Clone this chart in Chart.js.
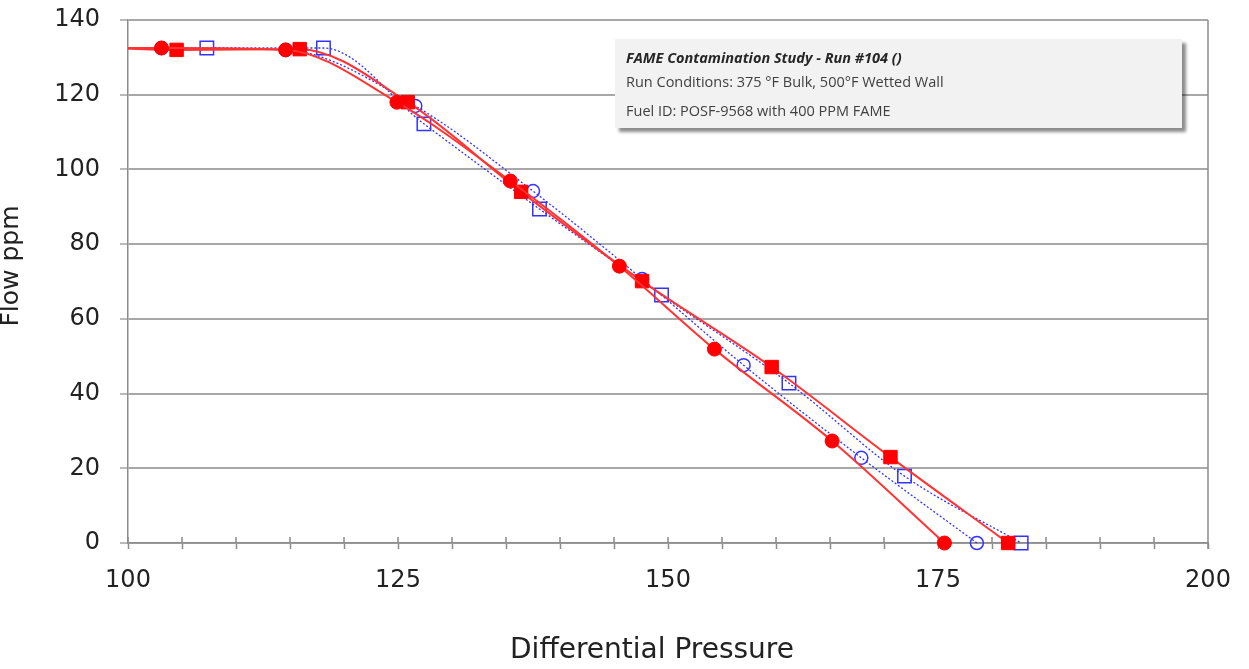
<!DOCTYPE html>
<html>
<head>
<meta charset="utf-8">
<title>FAME Contamination Study - Run #104</title>
<script src="https://cdn.jsdelivr.net/npm/chart.js@4.4.1/dist/chart.umd.min.js"></script>
<style>
    html, body { margin: 0; padding: 0; background: #ffffff; }
    #wrap { width: 1249px; height: 669px; }
</style>
</head>
<body>
<div id="wrap"><canvas id="flowChart" width="1249" height="669"></canvas></div>
<script>
// ===== DATA =====
// first point of each run sits left of 100 so the curve starts at the axis
var redCircleX = [98, 103.1, 114.6, 124.9, 135.4, 145.5, 154.3, 165.2, 175.6];
var redCircleY = [132.5, 132.5, 132.0, 118.0, 96.9, 74.1, 51.9, 27.3, 0];

var redSquareX = [98, 104.5, 115.9, 125.9, 136.4, 147.6, 159.6, 170.6, 181.5];
var redSquareY = [132.5, 132.0, 132.2, 118.0, 94.0, 70.1, 47.1, 23.0, 0];

var blueCircleX = [98, 103.1, 114.6, 126.6, 137.5, 147.6, 157.0, 167.9, 178.6];
var blueCircleY = [132.5, 132.5, 132.0, 117.0, 94.2, 70.7, 47.6, 22.8, 0];

var blueSquareX = [98, 107.3, 118.1, 127.4, 138.1, 149.4, 161.2, 171.9, 182.7];
var blueSquareY = [132.5, 132.5, 132.5, 112.2, 89.4, 66.4, 42.8, 17.9, 0];

var xTickLabels = [100, 125, 150, 175, 200];
var yTickLabels = [0, 20, 40, 60, 80, 100, 120, 140];

var infoLines = [
    'FAME Contamination Study - Run #104 ()',
    'Run Conditions: 375 °F Bulk, 500°F Wetted Wall',
    'Fuel ID: POSF-9568 with 400 PPM FAME'
];

var xTitle = 'Differential Pressure';
var yTitle = 'Flow ppm';

// ===== HELPERS =====
function toPoints(xs, ys) {
    return xs.map(function(v, i) { return { x: v, y: ys[i] }; });
}

var AXIS_GREY = '#8c8c8c';
var FONT = '"DejaVu Sans", sans-serif';

// ===== FRAME, TICKS, TITLES, INFO BOX =====
var decorPlugin = {
    id: 'decor',
    beforeDatasetsDraw: function(chart) {
        var ctx = chart.ctx, a = chart.chartArea, xs = chart.scales.x;
        ctx.save();
        ctx.strokeStyle = AXIS_GREY;
        ctx.lineWidth = 1.5;
        ctx.beginPath();
        // right edge of the plot frame
        ctx.moveTo(a.right, a.top);
        ctx.lineTo(a.right, a.bottom + 6);
        // upper half of the crossing x ticks
        for (var v = xs.min; v <= xs.max; v += 5) {
            var px = xs.getPixelForValue(v);
            ctx.moveTo(px, a.bottom - 6);
            ctx.lineTo(px, a.bottom);
        }
        ctx.stroke();
        ctx.restore();
    },
    afterDraw: function(chart) {
        var ctx = chart.ctx, a = chart.chartArea;
        ctx.save();

        // axis titles
        ctx.fillStyle = '#222222';
        ctx.font = '28px ' + FONT;
        ctx.textAlign = 'center';
        ctx.textBaseline = 'alphabetic';
        ctx.fillText(xTitle, (a.left + a.right) / 2 - 16, 658);

        // y title is cut by the left edge, as in the source image
        ctx.save();
        ctx.translate(18, 266);
        ctx.rotate(-Math.PI / 2);
        ctx.font = '25px ' + FONT;
        ctx.fillText(yTitle, 0, 0);
        ctx.restore();

        // info box with drop shadow
        var bx = 615, by = 39, bw = 567, bh = 89;
        ctx.shadowColor = 'rgba(0, 0, 0, 0.45)';
        ctx.shadowOffsetX = 4;
        ctx.shadowOffsetY = 4;
        ctx.shadowBlur = 3;
        ctx.fillStyle = '#f2f2f2';
        ctx.fillRect(bx, by, bw, bh);
        ctx.shadowColor = 'transparent';

        ctx.textAlign = 'left';
        ctx.textBaseline = 'middle';
        ctx.fillStyle = '#262626';
        ctx.font = 'italic bold 14.5px "Open Sans", sans-serif';
        ctx.fillText(infoLines[0], bx + 11, 59);
        ctx.fillStyle = '#404040';
        ctx.font = '14.5px "Open Sans", sans-serif';
        ctx.fillText(infoLines[1], bx + 11, 83);
        ctx.fillText(infoLines[2], bx + 11, 112);

        ctx.restore();
    }
};

// ===== CHART =====
function initFlowChart() {
    var ctx = document.getElementById('flowChart').getContext('2d');
    var clipBox = { left: 0, top: 12, right: 12, bottom: 12 };

    new Chart(ctx, {
        type: 'scatter',
        data: {
            datasets: [{
                label: 'Red circles',
                data: toPoints(redCircleX, redCircleY),
                showLine: true,
                borderColor: '#ff3333',
                borderWidth: 2,
                cubicInterpolationMode: 'monotone',
                pointStyle: 'circle',
                pointRadius: 7,
                pointBackgroundColor: '#ff0000',
                pointBorderColor: '#ff0000',
                pointBorderWidth: 1,
                clip: clipBox,
                order: 1
            }, {
                label: 'Red squares',
                data: toPoints(redSquareX, redSquareY),
                showLine: true,
                borderColor: '#ff3333',
                borderWidth: 2,
                cubicInterpolationMode: 'monotone',
                pointStyle: 'rect',
                pointRadius: 9.5,
                pointBackgroundColor: '#ff0000',
                pointBorderColor: '#ff0000',
                pointBorderWidth: 1,
                clip: clipBox,
                order: 2
            }, {
                label: 'Blue circles',
                data: toPoints(blueCircleX, blueCircleY),
                showLine: true,
                borderColor: '#3333ff',
                borderWidth: 1.3,
                borderDash: [2, 2],
                cubicInterpolationMode: 'monotone',
                pointStyle: 'circle',
                pointRadius: 6.5,
                pointBackgroundColor: 'rgba(255, 255, 255, 0)',
                pointBorderColor: '#3333ff',
                pointBorderWidth: 1.5,
                clip: clipBox,
                order: 3
            }, {
                label: 'Blue squares',
                data: toPoints(blueSquareX, blueSquareY),
                showLine: true,
                borderColor: '#3333ff',
                borderWidth: 1.3,
                borderDash: [2, 2],
                cubicInterpolationMode: 'monotone',
                pointStyle: 'rect',
                pointRadius: 9.5,
                pointBackgroundColor: 'rgba(255, 255, 255, 0)',
                pointBorderColor: '#3333ff',
                pointBorderWidth: 1.5,
                clip: clipBox,
                order: 4
            }]
        },
        options: {
            responsive: false,
            animation: false,
            layout: {
                padding: { top: 20, right: 41, left: 0, bottom: 0 }
            },
            plugins: {
                legend: { display: false },
                tooltip: { enabled: false }
            },
            scales: {
                x: {
                    type: 'linear',
                    min: 100,
                    max: 200,
                    afterFit: function(scale) { scale.height = 126; },
                    border: { display: true, color: AXIS_GREY, width: 1.5 },
                    grid: {
                        display: true,
                        drawOnChartArea: false,
                        tickLength: 6,
                        tickColor: AXIS_GREY,
                        tickWidth: 1.5
                    },
                    ticks: {
                        stepSize: 5,
                        autoSkip: false,
                        maxRotation: 0,
                        padding: 17,
                        color: '#222222',
                        font: { family: FONT, size: 24 },
                        callback: function(v) {
                            return xTickLabels.indexOf(v) > -1 ? String(v) : '';
                        }
                    }
                },
                y: {
                    min: 0,
                    max: 140,
                    afterFit: function(scale) {
                        scale.width = 128;
                        // labels may overhang; keep the plot top at the layout padding
                        scale.paddingTop = 0;
                        scale.paddingBottom = 0;
                    },
                    border: { display: true, color: AXIS_GREY, width: 1.5 },
                    grid: {
                        color: '#a8a8a8',
                        lineWidth: 2,
                        tickLength: 8,
                        tickColor: AXIS_GREY,
                        tickWidth: 1.2
                    },
                    ticks: {
                        stepSize: 20,
                        padding: 20,
                        color: '#222222',
                        font: { family: FONT, size: 24 },
                        callback: function(v) {
                            return yTickLabels.indexOf(v) > -1 ? String(v) : '';
                        }
                    }
                }
            }
        },
        plugins: [decorPlugin]
    });
}

document.addEventListener('DOMContentLoaded', initFlowChart);
</script>
</body>
</html>
